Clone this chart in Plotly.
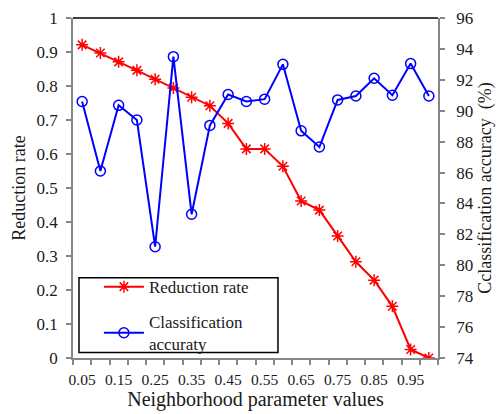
import plotly.graph_objects as go

x_vals = [0.05, 0.10, 0.15, 0.20, 0.25, 0.30, 0.35, 0.40, 0.45, 0.50,
          0.55, 0.60, 0.65, 0.70, 0.75, 0.80, 0.85, 0.90, 0.95, 1.00]
reduction_rate = [0.921, 0.897, 0.871, 0.846, 0.820, 0.794, 0.767, 0.742, 0.690, 0.615,
                  0.615, 0.564, 0.462, 0.435, 0.359, 0.283, 0.229, 0.152, 0.025, 0.0]
class_acc = [90.6, 86.1, 90.35, 89.4, 81.2, 93.5, 83.3, 89.05, 91.05, 90.6,
             90.75, 93.0, 88.7, 87.65, 90.7, 90.95, 92.1, 91.0, 93.05, 90.95]
x_tick_vals = [0.05, 0.15, 0.25, 0.35, 0.45, 0.55, 0.65, 0.75, 0.85, 0.95]
x_tick_text = ["0.05", "0.15", "0.25", "0.35", "0.45", "0.55", "0.65", "0.75", "0.85", "0.95"]

FONT = "Liberation Serif, Times New Roman, serif"
AXIS_GRAY = "#868686"
TXT = "#1a1a1a"

fig = go.Figure()
fig.add_trace(go.Scatter(
    x=x_vals, y=reduction_rate, name="Reduction rate", mode="lines+markers",
    line=dict(color="#ff0000", width=2),
    marker=dict(symbol="asterisk-open", size=10, line=dict(color="#ff0000", width=1.5), color="#ff0000"),
    legendgroup="a", yaxis="y"))
fig.add_trace(go.Scatter(
    x=x_vals, y=class_acc, name="Classification<br>accuraty", mode="lines+markers",
    line=dict(color="#0000ff", width=2),
    marker=dict(symbol="circle-open", size=10, line=dict(color="#0000ff", width=1.5), color="#0000ff"),
    legendgroup="b", yaxis="y2"))

fig.update_layout(
    width=497, height=414,
    margin=dict(l=73, r=59, t=18, b=56, autoexpand=False),
    paper_bgcolor="white", plot_bgcolor="white",
    font=dict(family=FONT, size=16, color=TXT),
    showlegend=True,
    legend=dict(x=0.071, y=0.2615, xanchor="left", yanchor="top",
                borderwidth=0, bgcolor="rgba(0,0,0,0)",
                font=dict(family=FONT, size=17, color=TXT),
                tracegroupgap=10, itemwidth=40),
    xaxis=dict(range=[0.025, 1.025], tickmode="array", tickvals=x_tick_vals, ticktext=x_tick_text,
               ticks="outside", ticklen=5, tickcolor="rgba(0,0,0,0)", ticklabelstandoff=2,
               showgrid=False, zeroline=False, automargin=False,
               showline=True, linecolor=AXIS_GRAY, linewidth=1.5,
               tickfont=dict(size=15.5),
               minor=dict(tickmode="linear", tick0=0.025, dtick=0.05, ticks="outside",
                          ticklen=5, tickcolor=AXIS_GRAY, tickwidth=1.5, showgrid=False),
               title=dict(text="Neighborhood parameter values", font=dict(size=20), standoff=5)),
    yaxis=dict(range=[0, 1], tickmode="linear", tick0=0, dtick=0.1, ticks="outside", ticklen=5,
               tickcolor=AXIS_GRAY, tickwidth=1.5, ticklabelstandoff=5,
               showgrid=False, zeroline=False, automargin=False,
               showline=True, linecolor=AXIS_GRAY, linewidth=1.5,
               tickfont=dict(size=17),
               title=dict(text="Reduction rate", font=dict(size=18), standoff=6)),
    yaxis2=dict(range=[74, 96], tickmode="linear", tick0=74, dtick=2, ticks="outside", ticklen=5,
                tickcolor=AXIS_GRAY, tickwidth=1.5, ticklabelstandoff=8,
                overlaying="y", side="right", automargin=False,
                showgrid=False, zeroline=False,
                showline=True, linecolor=AXIS_GRAY, linewidth=1.5,
                tickfont=dict(size=17),
                title=dict(text="Cclassification accuracy  (%)", font=dict(size=18), standoff=6)),
    shapes=[
        dict(type="line", xref="paper", yref="paper", x0=0, x1=1, y0=1, y1=1,
             line=dict(color="black", width=1.5)),
        dict(type="rect", xref="paper", yref="paper", x0=0.0164, x1=0.5616, y0=0.016, y1=0.2357,
             fillcolor="white", line=dict(color="black", width=1.5), layer="above"),
    ],
)

fig.write_html("out.html", config={"displayModeBar": False},
               post_script="document.body.style.margin='0';document.body.style.overflow='hidden';")
